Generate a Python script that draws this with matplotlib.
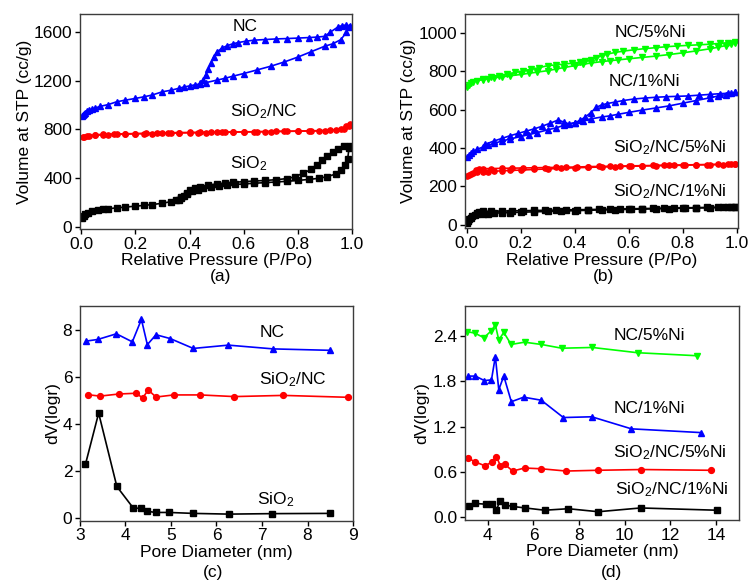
import matplotlib
matplotlib.use('Agg')
import matplotlib.pyplot as plt
from matplotlib.ticker import FormatStrFormatter

plt.rcParams['font.family'] = ['Liberation Sans', 'DejaVu Sans']
plt.rcParams['mathtext.fontset'] = 'custom'
plt.rcParams['mathtext.rm'] = 'Liberation Sans'
plt.rcParams['mathtext.it'] = 'Liberation Sans:italic'

# ---- (a) N2 isotherms: NC, SiO2/NC, SiO2 ----
nc_ads_p = [0.003, 0.006, 0.01, 0.015, 0.02, 0.03, 0.04, 0.05, 0.07, 0.1, 0.13, 0.16, 0.2, 0.23, 0.26,
            0.3, 0.33, 0.36, 0.38, 0.4, 0.42, 0.44, 0.46, 0.5, 0.53, 0.56, 0.6, 0.65, 0.7, 0.75, 0.8,
            0.85, 0.9, 0.93, 0.96, 0.98, 0.99]
nc_ads_v = [908, 918, 928, 938, 948, 960, 968, 975, 990, 1005, 1027, 1040, 1055, 1068, 1082,
            1110, 1122, 1138, 1150, 1158, 1167, 1175, 1185, 1205, 1220, 1238, 1260, 1290, 1320, 1355, 1395,
            1440, 1485, 1505, 1540, 1600, 1645]
nc_des_p = [0.995, 0.98, 0.965, 0.95, 0.92, 0.9, 0.87, 0.84, 0.8, 0.76, 0.72, 0.68, 0.64, 0.61, 0.58,
            0.56, 0.54, 0.52, 0.5, 0.49, 0.48, 0.47, 0.46, 0.45, 0.44]
nc_des_v = [1648, 1660, 1655, 1645, 1600, 1566, 1560, 1556, 1552, 1548, 1545, 1540, 1535, 1527, 1515,
            1505, 1490, 1470, 1435, 1400, 1350, 1300, 1250, 1210, 1185]

sinc_ads_p = [0.005, 0.01, 0.02, 0.03, 0.05, 0.08, 0.1, 0.13, 0.16, 0.2, 0.23, 0.26, 0.3, 0.33, 0.36,
              0.4, 0.43, 0.46, 0.5, 0.53, 0.56, 0.6, 0.65, 0.7, 0.75, 0.8, 0.85, 0.9, 0.94, 0.97, 0.99]
sinc_ads_v = [735, 740, 745, 748, 752, 755, 757, 759, 761, 763, 765, 766, 768, 769, 771,
              772, 773, 774, 776, 777, 778, 779, 781, 782, 784, 785, 787, 789, 792, 800, 830]
sinc_des_p = [0.995, 0.98, 0.96, 0.92, 0.88, 0.84, 0.8, 0.76, 0.72, 0.68, 0.64, 0.6, 0.56, 0.52, 0.48,
              0.44, 0.4, 0.36, 0.32, 0.28, 0.24, 0.2, 0.16, 0.12, 0.08, 0.05]
sinc_des_v = [845, 825, 805, 793, 790, 788, 787, 785, 784, 782, 781, 780, 779, 778, 777,
              776, 775, 774, 772, 770, 768, 766, 764, 762, 759, 756]

si_ads_p = [0.003, 0.008, 0.015, 0.025, 0.04, 0.06, 0.08, 0.1, 0.13, 0.16, 0.2, 0.23, 0.26, 0.3, 0.33,
            0.35, 0.37, 0.39, 0.41, 0.43, 0.45, 0.48, 0.51, 0.54, 0.57, 0.6, 0.64, 0.68, 0.72, 0.76,
            0.8, 0.84, 0.88, 0.91, 0.94, 0.96, 0.975, 0.985, 0.99]
si_ads_v = [70, 88, 103, 115, 126, 135, 141, 147, 154, 160, 168, 174, 181, 192, 205,
            220, 242, 268, 290, 305, 318, 330, 338, 343, 347, 351, 357, 362, 367, 373,
            380, 388, 398, 412, 432, 462, 505, 560, 650]
si_des_p = [0.995, 0.97, 0.95, 0.93, 0.91, 0.89, 0.87, 0.85, 0.82, 0.79, 0.76, 0.72, 0.68, 0.64, 0.6,
            0.56, 0.53, 0.5, 0.47, 0.44, 0.42, 0.4, 0.39, 0.38, 0.37, 0.36]
si_des_v = [662, 662, 640, 610, 578, 545, 505, 470, 440, 410, 395, 386, 380, 375, 370,
            364, 358, 350, 342, 330, 318, 300, 280, 255, 232, 215]

# ---- (b) N2 isotherms: Ni loaded samples ----
nc5_ads_p = [0.003, 0.008, 0.015, 0.025, 0.04, 0.06, 0.08, 0.1, 0.13, 0.16, 0.2, 0.23, 0.26, 0.3, 0.33,
             0.36, 0.4, 0.43, 0.46, 0.5, 0.53, 0.56, 0.6, 0.65, 0.7, 0.75, 0.8, 0.85, 0.9, 0.93, 0.96,
             0.98, 0.995]
nc5_ads_v = [718, 728, 737, 745, 752, 757, 762, 766, 772, 777, 784, 790, 796, 804, 812,
             820, 830, 837, 844, 851, 856, 860, 866, 873, 880, 888, 897, 907, 918, 926, 935,
             943, 950]
nc5_des_p = [0.995, 0.97, 0.94, 0.9, 0.86, 0.82, 0.78, 0.74, 0.7, 0.66, 0.62, 0.58, 0.55, 0.52, 0.5,
             0.48, 0.46, 0.44, 0.42, 0.39, 0.36, 0.33, 0.3, 0.27, 0.24, 0.21, 0.18, 0.15, 0.12, 0.09, 0.06]
nc5_des_v = [952, 950, 947, 942, 939, 936, 933, 929, 924, 919, 913, 906, 899, 890, 882,
             870, 860, 852, 848, 843, 838, 834, 830, 820, 812, 803, 795, 786, 778, 770, 762]

nc1_ads_p = [0.003, 0.008, 0.015, 0.025, 0.04, 0.06, 0.08, 0.1, 0.13, 0.16, 0.2, 0.23, 0.26, 0.3, 0.33,
             0.36, 0.4, 0.43, 0.46, 0.5, 0.53, 0.56, 0.6, 0.65, 0.7, 0.75, 0.8, 0.85, 0.9, 0.93, 0.96,
             0.98, 0.995]
nc1_ads_v = [352, 362, 372, 382, 394, 405, 414, 424, 436, 447, 460, 470, 480, 495, 505,
             518, 533, 543, 552, 562, 568, 576, 586, 598, 609, 620, 634, 648, 662, 671, 679,
             685, 690]
nc1_des_p = [0.995, 0.97, 0.94, 0.9, 0.86, 0.82, 0.78, 0.74, 0.7, 0.66, 0.62, 0.58, 0.55, 0.52, 0.5,
             0.48, 0.46, 0.44, 0.42, 0.4, 0.38, 0.36, 0.34, 0.31, 0.28, 0.25, 0.22, 0.19, 0.16, 0.13,
             0.1, 0.07]
nc1_des_v = [690, 686, 684, 680, 676, 672, 670, 668, 665, 661, 656, 648, 640, 632, 625,
             612, 585, 562, 545, 530, 526, 535, 547, 530, 514, 500, 488, 476, 464, 450,
             436, 420]

sn5_ads_p = [0.003, 0.008, 0.015, 0.025, 0.04, 0.06, 0.08, 0.1, 0.13, 0.16, 0.2, 0.25, 0.3, 0.35, 0.4,
             0.45, 0.5, 0.55, 0.6, 0.65, 0.7, 0.75, 0.8, 0.85, 0.9, 0.95, 0.98, 0.995]
sn5_ads_v = [255, 260, 266, 270, 273, 275, 277, 279, 281, 283, 285, 288, 291, 294, 297,
             299, 301, 303, 305, 306, 308, 309, 310, 312, 313, 314, 315, 316]
sn5_des_p = [0.995, 0.97, 0.93, 0.89, 0.85, 0.81, 0.77, 0.73, 0.69, 0.65, 0.61, 0.57, 0.53, 0.49, 0.45,
             0.41, 0.37, 0.33, 0.29, 0.25, 0.21, 0.17, 0.13, 0.09, 0.06, 0.045, 0.035]
sn5_des_v = [317, 316, 315, 314, 313, 312, 311, 310, 309, 308, 307, 306, 305, 304, 303,
             301, 300, 299, 298, 297, 296, 295, 294, 293, 292, 290, 285]

sn1_ads_p = [0.002, 0.005, 0.01, 0.015, 0.02, 0.03, 0.04, 0.06, 0.08, 0.1, 0.13, 0.16, 0.2, 0.25, 0.3,
             0.35, 0.4, 0.45, 0.5, 0.55, 0.6, 0.65, 0.7, 0.75, 0.8, 0.85, 0.9, 0.95, 0.98, 0.995]
sn1_ads_v = [10, 18, 28, 36, 44, 52, 55, 57, 58, 60, 62, 63, 65, 67, 69,
             71, 73, 75, 77, 78, 80, 81, 83, 84, 86, 87, 88, 90, 91, 92]
sn1_des_p = [0.995, 0.97, 0.93, 0.89, 0.85, 0.81, 0.77, 0.73, 0.69, 0.65, 0.61, 0.57, 0.53, 0.49, 0.45,
             0.41, 0.37, 0.33, 0.29, 0.25, 0.21, 0.17, 0.13, 0.09, 0.06, 0.045, 0.04]
sn1_des_v = [93, 92, 91, 90, 89, 88, 87, 86, 85, 84, 83, 82, 81, 80, 79,
             78, 77, 76, 75, 74, 73, 72, 71, 70, 69, 68, 62]

# ---- (c) pore size distributions ----
c_nc_d = [3.13, 3.39, 3.80, 4.15, 4.35, 4.48, 4.67, 4.98, 5.49, 6.26, 7.25, 8.50]
c_nc_v = [7.51, 7.58, 7.82, 7.48, 8.43, 7.36, 7.78, 7.62, 7.20, 7.34, 7.18, 7.12]
c_sinc_d = [3.17, 3.44, 3.86, 4.22, 4.38, 4.50, 4.67, 5.06, 5.64, 6.39, 7.47, 8.88]
c_sinc_v = [5.24, 5.18, 5.27, 5.30, 5.11, 5.44, 5.14, 5.23, 5.23, 5.16, 5.21, 5.13]
c_si_d = [3.12, 3.41, 3.81, 4.17, 4.35, 4.48, 4.66, 4.96, 5.49, 6.27, 7.23, 8.49]
c_si_v = [2.29, 4.46, 1.35, 0.44, 0.42, 0.30, 0.25, 0.25, 0.21, 0.18, 0.20, 0.21]

# ---- (d) pore size distributions, Ni loaded ----
d_nc5_d = [3.10, 3.43, 3.83, 4.15, 4.33, 4.48, 4.70, 5.02, 5.61, 6.34, 7.24, 8.58, 10.56, 13.17]
d_nc5_v = [2.46, 2.44, 2.38, 2.47, 2.55, 2.35, 2.45, 2.29, 2.32, 2.29, 2.24, 2.25, 2.18, 2.14]
d_nc1_d = [3.14, 3.46, 3.85, 4.16, 4.33, 4.48, 4.70, 5.03, 5.57, 6.34, 7.31, 8.55, 10.29, 13.35]
d_nc1_v = [1.87, 1.87, 1.81, 1.82, 2.13, 1.69, 1.87, 1.53, 1.59, 1.55, 1.32, 1.33, 1.17, 1.12]
d_sn5_d = [3.14, 3.46, 3.87, 4.19, 4.38, 4.55, 4.74, 5.09, 5.61, 6.34, 7.43, 8.81, 10.73, 13.78]
d_sn5_v = [0.78, 0.73, 0.68, 0.73, 0.80, 0.68, 0.70, 0.61, 0.65, 0.64, 0.61, 0.62, 0.63, 0.62]
d_sn1_d = [3.17, 3.46, 3.90, 4.19, 4.38, 4.52, 4.74, 5.09, 5.64, 6.49, 7.53, 8.84, 10.69, 14.03]
d_sn1_v = [0.14, 0.18, 0.17, 0.17, 0.09, 0.21, 0.16, 0.14, 0.12, 0.09, 0.11, 0.07, 0.12, 0.09]

BLUE = '#0000ff'
RED = '#ff0000'
BLACK = '#000000'
GREEN = '#00ff00'
FS = 12.5


def curve(ax, x, y, color, marker, ms=4.2):
    ax.plot(x, y, color=color, marker=marker, ms=ms, lw=1.2, mec=color, mfc=color)


def style(ax):
    for s in ax.spines.values():
        s.set_color('#3c3c3c')
        s.set_linewidth(1.0)
    ax.tick_params(direction='out', length=3.5, width=1, labelsize=FS, pad=2,
                   top=False, right=False)


fig = plt.figure(figsize=(7.49, 5.82), dpi=100)
ax_a = fig.add_axes([0.1068, 0.6065, 0.3636, 0.3694])
ax_b = fig.add_axes([0.6208, 0.6074, 0.3640, 0.3686])
ax_c = fig.add_axes([0.1068, 0.1053, 0.3645, 0.3690])
ax_d = fig.add_axes([0.6208, 0.1065, 0.3658, 0.3677])

# (a)
for p, v, col, mk in [(nc_ads_p, nc_ads_v, BLUE, '^'), (nc_des_p, nc_des_v, BLUE, '^'),
                      (sinc_ads_p, sinc_ads_v, RED, 'o'), (sinc_des_p, sinc_des_v, RED, 'o'),
                      (si_ads_p, si_ads_v, BLACK, 's'), (si_des_p, si_des_v, BLACK, 's')]:
    curve(ax_a, p, v, col, mk, ms=3.8)
ax_a.set_xlim(-0.005, 1.002)
ax_a.set_ylim(-20, 1750)
ax_a.set_xticks([0, 0.2, 0.4, 0.6, 0.8, 1.0])
ax_a.set_yticks([0, 400, 800, 1200, 1600])
ax_a.xaxis.set_major_formatter(FormatStrFormatter('%.1f'))
ax_a.set_xlabel('Relative Pressure (P/Po)', fontsize=FS, labelpad=1)
ax_a.set_ylabel('Volume at STP (cc/g)', fontsize=FS, labelpad=1)
ax_a.text(0.606, 1645, 'NC', fontsize=FS, ha='center', va='center')
ax_a.text(0.673, 945, r'SiO$_2$/NC', fontsize=FS, ha='center', va='center')
ax_a.text(0.618, 518, r'SiO$_2$', fontsize=FS, ha='center', va='center')

# (b)
for p, v, col, mk in [(nc5_ads_p, nc5_ads_v, GREEN, 'v'), (nc5_des_p, nc5_des_v, GREEN, 'v'),
                      (nc1_ads_p, nc1_ads_v, BLUE, '^'), (nc1_des_p, nc1_des_v, BLUE, '^'),
                      (sn5_ads_p, sn5_ads_v, RED, 'o'), (sn5_des_p, sn5_des_v, RED, 'o'),
                      (sn1_ads_p, sn1_ads_v, BLACK, 's'), (sn1_des_p, sn1_des_v, BLACK, 's')]:
    curve(ax_b, p, v, col, mk, ms=3.8)
ax_b.set_xlim(-0.006, 1.004)
ax_b.set_ylim(-20, 1100)
ax_b.set_xticks([0, 0.2, 0.4, 0.6, 0.8, 1.0])
ax_b.set_yticks([0, 200, 400, 600, 800, 1000])
ax_b.xaxis.set_major_formatter(FormatStrFormatter('%.1f'))
ax_b.set_xlabel('Relative Pressure (P/Po)', fontsize=FS, labelpad=1)
ax_b.set_ylabel('Volume at STP (cc/g)', fontsize=FS, labelpad=2)
ax_b.text(0.679, 1002, 'NC/5%Ni', fontsize=FS, ha='center', va='center')
ax_b.text(0.660, 746, 'NC/1%Ni', fontsize=FS, ha='center', va='center')
ax_b.text(0.753, 402, r'SiO$_2$/NC/5%Ni', fontsize=FS, ha='center', va='center')
ax_b.text(0.753, 172, r'SiO$_2$/NC/1%Ni', fontsize=FS, ha='center', va='center')

# (c)
curve(ax_c, c_nc_d, c_nc_v, BLUE, '^')
curve(ax_c, c_sinc_d, c_sinc_v, RED, 'o')
curve(ax_c, c_si_d, c_si_v, BLACK, 's')
ax_c.set_xlim(3, 9)
ax_c.set_ylim(-0.1, 9)
ax_c.set_xticks(range(3, 10))
ax_c.set_yticks([0, 2, 4, 6, 8])
ax_c.set_xlabel('Pore Diameter (nm)', fontsize=FS, labelpad=1)
ax_c.set_ylabel('dV(logr)', fontsize=FS, labelpad=2)
ax_c.text(7.22, 7.87, 'NC', fontsize=FS, ha='center', va='center')
ax_c.text(7.67, 5.87, r'SiO$_2$/NC', fontsize=FS, ha='center', va='center')
ax_c.text(7.31, 0.78, r'SiO$_2$', fontsize=FS, ha='center', va='center')

# (d)
curve(ax_d, d_nc5_d, d_nc5_v, GREEN, 'v')
curve(ax_d, d_nc1_d, d_nc1_v, BLUE, '^')
curve(ax_d, d_sn5_d, d_sn5_v, RED, 'o')
curve(ax_d, d_sn1_d, d_sn1_v, BLACK, 's')
ax_d.set_xlim(3, 15)
ax_d.set_ylim(-0.04, 2.8)
ax_d.set_xticks([4, 6, 8, 10, 12, 14])
ax_d.set_yticks([0, 0.6, 1.2, 1.8, 2.4])
ax_d.yaxis.set_major_formatter(FormatStrFormatter('%.1f'))
ax_d.set_xlabel('Pore Diameter (nm)', fontsize=FS, labelpad=1)
ax_d.set_ylabel('dV(logr)', fontsize=FS, labelpad=3)
ax_d.text(11.09, 2.41, 'NC/5%Ni', fontsize=FS, ha='center', va='center')
ax_d.text(11.09, 1.44, 'NC/1%Ni', fontsize=FS, ha='center', va='center')
ax_d.text(11.96, 0.85, r'SiO$_2$/NC/5%Ni', fontsize=FS, ha='center', va='center')
ax_d.text(12.04, 0.36, r'SiO$_2$/NC/1%Ni', fontsize=FS, ha='center', va='center')

for ax in (ax_a, ax_b, ax_c, ax_d):
    style(ax)

# panel captions under the x labels
for label, x, y in [('(a)', 221, 277), ('(b)', 603, 277), ('(c)', 213, 573), ('(d)', 611, 573)]:
    fig.text(x / 749, 1 - y / 582, label, fontsize=FS, ha='center', va='center')

fig.savefig('out.png', dpi=100, facecolor='white')
